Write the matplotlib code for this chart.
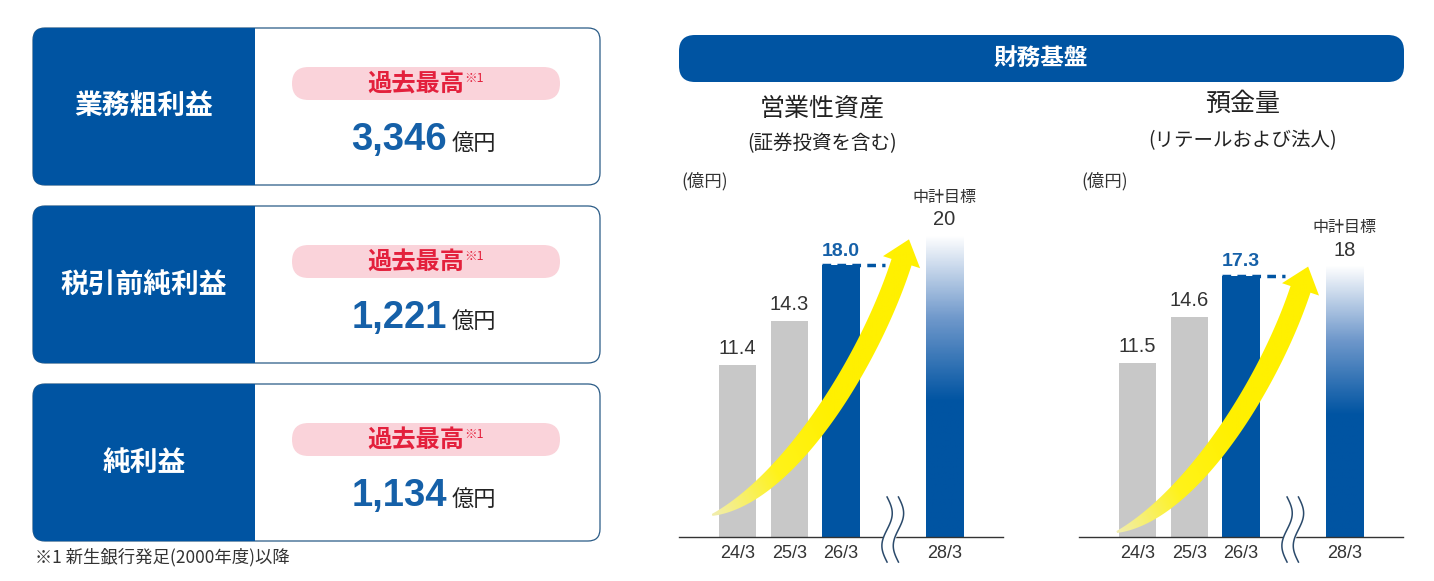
import numpy as np
import matplotlib
matplotlib.use("Agg")
import matplotlib.pyplot as plt
from matplotlib.patches import FancyBboxPatch, Rectangle, Polygon
from matplotlib.colors import LinearSegmentedColormap

plt.rcParams["font.family"] = ["Noto Sans CJK JP", "DejaVu Sans"]

# ---- data ----
card_titles = ["業務粗利益", "税引前純利益", "純利益"]
card_values = ["3,346", "1,221", "1,134"]
card_badge = "過去最高"
card_unit = "億円"
footnote = "※1 新生銀行発足(2000年度)以降"

categories = ["24/3", "25/3", "26/3", "28/3"]
assets = [11.4, 14.3, 18.0, 20]
deposits = [11.5, 14.6, 17.3, 18]
asset_labels = ["11.4", "14.3", "18.0", "20"]
deposit_labels = ["11.5", "14.6", "17.3", "18"]

BLUE = "#0054A2"
NUM_BLUE = "#1560A8"
GRAY = "#C8C8C8"
RED = "#E3203C"
PINK = "#FAD3DA"
TXT = "#222222"
NUMFONT = ["Liberation Sans", "DejaVu Sans"]

W, H = 1434, 581
fig = plt.figure(figsize=(W / 100, H / 100), dpi=100)

# overlay axes in pixel coords (y down)
ov = fig.add_axes([0, 0, 1, 1])
ov.set_xlim(0, W)
ov.set_ylim(H, 0)
ov.axis("off")

# ---- left cards ----
card_tops = [28, 206, 384]
card_h = 157
for top, title, val in zip(card_tops, card_titles, card_values):
    ov.add_patch(FancyBboxPatch((33, top), 567, card_h, boxstyle="round,pad=0,rounding_size=12",
                                facecolor="white", edgecolor="#2A5B86", linewidth=0.9, zorder=1))
    ov.add_patch(FancyBboxPatch((33, top), 222, card_h, boxstyle="round,pad=0,rounding_size=12",
                                facecolor=BLUE, edgecolor="none", zorder=2))
    ov.add_patch(Rectangle((238, top), 17, card_h, facecolor=BLUE, edgecolor="none", zorder=2))
    ov.text(144, top + card_h / 2, title, color="white", fontsize=20, fontweight="bold",
            ha="center", va="center", zorder=3)
    ov.add_patch(FancyBboxPatch((292, top + 39), 268, 33, boxstyle="round,pad=0,rounding_size=16.5",
                                facecolor=PINK, edgecolor="none", zorder=2))
    ov.text(464, top + 56.5, card_badge, color=RED, fontsize=17.5, fontweight="bold",
            ha="right", va="center", zorder=3)
    ov.text(464, top + 50, "※1", color=RED, fontsize=9, ha="left", va="center", zorder=3)
    ov.text(447, top + 122, val, color=NUM_BLUE, fontsize=27.5, fontweight="bold",
            family=NUMFONT, ha="right", va="baseline", zorder=3)
    ov.text(452, top + 122, card_unit, color=TXT, fontsize=16, ha="left", va="baseline", zorder=3)

ov.text(35, 557, footnote, color="#333333", fontsize=12.5, ha="left", va="center")

# ---- header band ----
ov.add_patch(FancyBboxPatch((679, 35), 725, 47, boxstyle="round,pad=0,rounding_size=16",
                            facecolor=BLUE, edgecolor="none"))
ov.text(1041, 59, "財務基盤", color="white", fontsize=17, fontweight="bold", ha="center", va="center")

ov.text(822, 108, "営業性資産", color=TXT, fontsize=18, ha="center", va="center")
ov.text(822, 144, "(証券投資を含む)", color=TXT, fontsize=14, ha="center", va="center")
ov.text(1243, 104, "預金量", color=TXT, fontsize=18, ha="center", va="center")
ov.text(1243, 141, "(リテールおよび法人)", color=TXT, fontsize=14, ha="center", va="center")
ov.text(681, 181, "(億円)", color="#333333", fontsize=12.5, ha="left", va="center")
ov.text(1081, 181, "(億円)", color="#333333", fontsize=12.5, ha="left", va="center")

# ---- bar charts ----
positions = [0, 1, 2, 4]
bar_w = 0.72
fade_cmap = LinearSegmentedColormap.from_list("fade", ["#FFFFFF", "#6F98CB", BLUE])
arrow_cmap = LinearSegmentedColormap.from_list("arr", ["#F1EDB0", "#FFF31A", "#FFF000"])


def draw_arrow(ax, ctrl, head_len=24, head_half=19.5):
    disp = ax.transData.transform(np.array(ctrl))
    t = np.linspace(0, 1, 150)[:, None]
    B = ((1 - t) ** 3) * disp[0] + 3 * ((1 - t) ** 2 * t) * disp[1] \
        + 3 * ((1 - t) * t ** 2) * disp[2] + (t ** 3) * disp[3]
    d = np.gradient(B, axis=0)
    d /= np.linalg.norm(d, axis=1)[:, None]
    n = np.column_stack([-d[:, 1], d[:, 0]])
    w = (1.0 + 9.5 * (1 - (1 - t[:, 0]) ** 5))[:, None]
    left = B + n * w
    right = B - n * w
    base = B[-1]
    tip = base + d[-1] * head_len
    poly = np.vstack([left, base + n[-1] * head_half, tip, base - n[-1] * head_half, right[::-1]])
    pd = ax.transData.inverted().transform(poly)
    patch = Polygon(pd, closed=True, facecolor="none", edgecolor="none", zorder=4)
    ax.add_patch(patch)
    x0, x1 = pd[:, 0].min(), pd[:, 0].max()
    y0, y1 = pd[:, 1].min(), pd[:, 1].max()
    g = np.linspace(0, 1, 256)[None, :] * 0.6 + np.linspace(0, 1, 256)[:, None] * 0.4
    im = ax.imshow(g, extent=(x0, x1, y0, y1), origin="lower", cmap=arrow_cmap,
                   aspect="auto", zorder=4, vmin=0, vmax=0.5)
    im.set_clip_path(patch)


def draw_chart(ax, values, labels, arrow_ctrl):
    ax.set_xlim(-1.13, 5.13)
    ax.set_ylim(0, 24)
    ax.set_facecolor("none")
    for s in ["top", "right", "left"]:
        ax.spines[s].set_visible(False)
    ax.spines["bottom"].set_color("#333333")
    ax.spines["bottom"].set_linewidth(1.0)
    ax.set_yticks([])
    ax.set_xticks(positions, categories)
    ax.tick_params(axis="x", length=0, pad=6, labelsize=13, labelcolor="#333333")
    for lab in ax.get_xticklabels():
        lab.set_family(NUMFONT)

    colors = [GRAY, GRAY, BLUE, "none"]
    bars = ax.bar(positions, values, width=bar_w, color=colors, edgecolor="none", zorder=2)

    # faded target bar
    tb = bars[3]
    yy = np.linspace(0, 1, 256)[:, None]
    grad = np.clip((1 - yy) / 0.55, 0, 1) * np.ones((1, 4))
    im = ax.imshow(grad, extent=(positions[3] - bar_w / 2, positions[3] + bar_w / 2, 0, values[3]),
                   origin="lower", cmap=fade_cmap, aspect="auto", zorder=2, vmin=0, vmax=1)
    im.set_clip_path(tb)

    for i in range(2):
        ax.annotate(labels[i], (positions[i], values[i]), xytext=(0, 5), textcoords="offset points",
                    ha="center", va="bottom", fontsize=14.5, color="#333333", family=NUMFONT)
    ax.annotate(labels[2], (positions[2], values[2]), xytext=(0, 4), textcoords="offset points",
                ha="center", va="bottom", fontsize=14, color=NUM_BLUE, fontweight="bold", family=NUMFONT)
    ax.plot([positions[2] - bar_w / 2, 2.85], [values[2], values[2]], color=BLUE, lw=2.5,
            ls=(0, (2.5, 1.8)), zorder=3, solid_capstyle="butt")
    ax.annotate(labels[3], (positions[3], values[3]), xytext=(0, 4), textcoords="offset points",
                ha="center", va="bottom", fontsize=14.5, color="#333333", family=NUMFONT)
    ax.annotate("中計目標", (positions[3], values[3]), xytext=(0, 21), textcoords="offset points",
                ha="center", va="bottom", fontsize=11.5, color="#333333")

    # break mark
    s = np.linspace(0, 1, 80)
    yb = 2.65 + (-1.66 - 2.65) * s
    xl = 3.0 - 0.11 + 0.1 * np.sin(2 * np.pi * s)
    xr = 3.0 + 0.11 + 0.1 * np.sin(2 * np.pi * s)
    ax.fill_betweenx(yb, xl, xr, color="white", zorder=5, clip_on=False)
    ax.plot(xl, yb, color="#2B4A6B", lw=1.1, zorder=6, clip_on=False)
    ax.plot(xr, yb, color="#2B4A6B", lw=1.1, zorder=6, clip_on=False)

    draw_arrow(ax, arrow_ctrl)
    ax.set_xlim(-1.13, 5.13)
    ax.set_ylim(0, 24)


ax1 = fig.add_axes([679 / W, 44 / H, 324 / W, 362.4 / H])
ax2 = fig.add_axes([1079 / W, 44 / H, 324 / W, 362.4 / H])
draw_chart(ax1, assets, asset_labels, [(-0.49, 1.46), (1.01, 3.11), (2.56, 11.72), (3.17, 18.2)])
draw_chart(ax2, deposits, deposit_labels, [(-0.40, 0.33), (1.05, 2.0), (2.55, 10.2), (3.15, 16.4)])

fig.savefig("out.png", dpi=100)
